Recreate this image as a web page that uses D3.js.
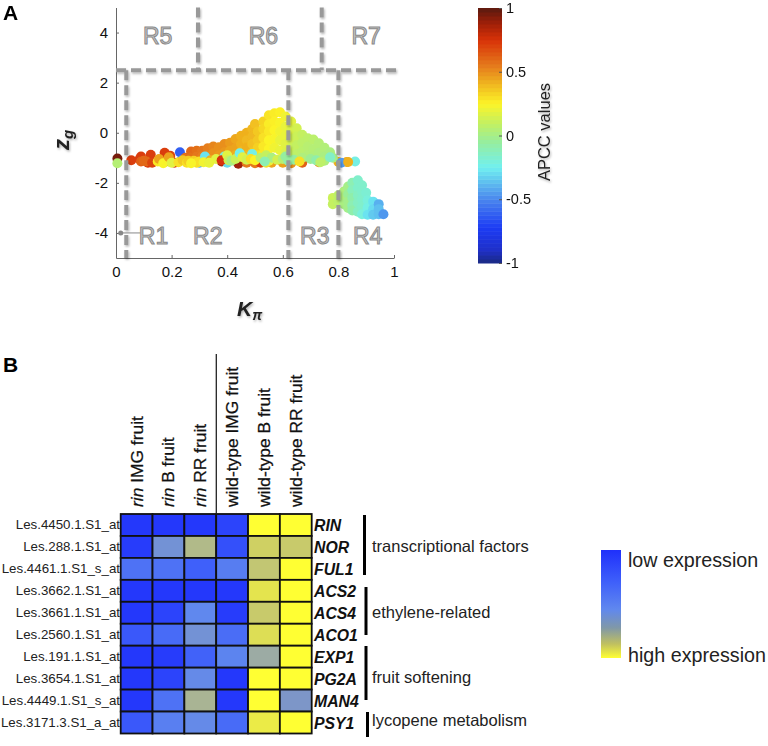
<!DOCTYPE html>
<html><head><meta charset="utf-8">
<script src="https://cdn.jsdelivr.net/npm/d3@7"></script>
<style>
html,body{margin:0;padding:0;background:#fff}
svg{display:block}
text{font-family:"Liberation Sans",Arial,sans-serif}
</style></head><body><svg id="c" width="768" height="746"></svg>
<script>
// ---------- Panel A data: [K, z, APCC] ----------
const bandBack = [
[.005,-1.03,.95],[.055,-1.1,.72],[.085,-1.05,.72],[.09,-.95,.72],[.125,-.88,.72],[.175,-.8,.72],[.195,-.92,.7],
[.09,-1.15,.62],[.115,-1.2,.75],[.1,-1.12,.6],[.21,-1.2,.72],[.18,-1.15,.66],[.23,-.78,-.62],[.235,-1.1,-.5],
[.26,-1.0,.62],[.3,-1.2,-.4],[.38,-1.15,.85],[.44,-1.24,.88],[.47,-1.2,.55],[.5,-1.22,.55],[.52,-1.2,.72],
[.56,-1.2,.45],[.6,-1.2,.45],[.63,-1.22,.5],[.67,-1.2,.62],[.73,-1.18,.5],[.4,-1.2,-.3],[.54,-1.2,.3],
[.8,-1.17,.42],[.83,-1.17,.45],[.81,-1.2,-.45]];
const ridge = [
[.25,-1.0,.58],[.27,-.75,.6],[.27,-.98,.58],[.29,-.72,.58],[.29,-.95,.56],[.31,-.72,.56],[.31,-.95,.54],
[.33,-.62,.54],[.33,-.9,.52],[.35,-.55,.52],[.35,-.82,.5],[.37,-.58,.5],[.37,-.9,.48],[.39,-.45,.5],[.39,-.78,.48],
[.41,-.4,.47],[.41,-.72,.45],[.43,-.25,.44],[.43,-.62,.45],[.43,-.9,.42],[.45,-.12,.42],[.45,-.45,.42],[.45,-.75,.4],
[.47,.0,.42],[.47,-.3,.4],[.47,-.6,.42],[.47,-.9,.4],[.49,.15,.4],[.49,-.15,.4],[.49,-.45,.38],[.49,-.8,.36],[.5,.35,.38],[.51,.05,.36],[.51,-.3,.36],
[.51,-.6,.34],[.51,-.9,.3],[.53,.45,.33],[.53,.15,.32],[.53,-.2,.3],[.53,-.55,.28],[.53,-.85,.28],[.55,.7,.29],[.55,.35,.27],[.55,.05,.28],
[.55,-.3,.25],[.55,-.65,.25],[.57,.78,.27],[.57,.45,.26],[.57,.1,.25],[.57,-.25,.24],[.57,-.6,.22],[.59,.82,.26],
[.59,.4,.24],[.59,.05,.22],[.59,-.3,.2],[.59,-.7,.2],[.61,.65,.22],[.61,.25,.2],[.61,-.1,.2],[.61,-.45,.18],[.61,-.8,.16],
[.63,.45,.18],[.63,.1,.16],[.63,-.25,.14],[.63,-.6,.12],[.63,-.9,.1],[.65,.18,.14],[.65,-.15,.12],[.65,-.5,.1],[.65,-.85,.08],
[.67,-.08,.1],[.67,-.4,.08],[.67,-.75,.07],[.69,-.22,.08],[.69,-.55,.06],[.69,-.9,.05],[.71,-.27,.07],[.71,-.65,.05],
[.71,-.95,.04],[.73,-.42,.05],[.73,-.8,.03],[.75,-.6,.04],[.75,-.95,.02],[.77,-.78,.02],[.78,-1.0,.0]];
const bandFront = [
[.11,-1.15,.6],[.13,-1.2,.7],[.15,-1.15,.28],[.155,-1.05,.45],[.17,-1.22,.24],[.19,-.98,.45],[.2,-1.2,.18],[.225,-1.18,.3],[.24,-1.1,.36],
[.255,-1.2,.3],[.26,-1.12,.35],[.28,-1.12,.34],[.29,-1.2,.3],[.3,-1.15,.3],[.27,-1.22,.24],[.32,-.95,-.28],[.315,-1.18,.22],[.34,-1.1,.42],[.36,-1.05,.18],[.335,-1.2,.2],
[.39,-.95,-.18],[.38,-1.1,.75],[.4,-.9,.18],[.405,-1.1,.12],[.415,-1.12,.02],[.43,-1.05,.12],[.445,-.82,-.24],[.455,-.98,.18],[.47,-1.08,.14],[.49,-.85,-.22],
[.485,-1.05,.3],[.5,-1.1,.25],[.52,-1.0,.08],[.54,-.9,.1],[.55,-1.12,.2],[.56,-1.0,.02],[.58,-1.08,.14],[.535,-1.15,-.1],
[.6,-1.05,.06],[.62,-1.12,-.1],[.61,-.95,-.05],[.64,-1.08,-.05],[.67,-1.0,.03],[.66,-1.15,.3],
[.7,-1.05,-.02],[.72,-1.1,-.08],[.75,-1.12,.03],[.77,-.98,-.15],[.735,-1.18,.08],
[.86,-1.15,-.22],[.835,-1.17,.42],[.005,-1.22,.05]];
const lowCluster = [
[.78,-2.6,.12],[.78,-2.85,.1],[.8,-2.5,.08],[.8,-2.75,.08],[.82,-2.35,.03],[.82,-2.6,.03],[.82,-2.85,.02],
[.835,-2.15,.0],[.835,-2.45,-.03],[.835,-2.75,.0],[.835,-3.0,.0],[.85,-2.0,-.1],[.85,-2.3,-.12],[.85,-2.6,-.08],
[.85,-2.9,-.1],[.85,-3.1,-.08],[.87,-1.9,-.16],[.87,-2.2,-.16],[.87,-2.5,-.14],[.87,-2.8,-.14],[.87,-3.15,-.14],[.885,-2.1,-.16],[.885,-2.35,-.16],[.885,-2.65,-.16],[.885,-2.95,-.16],[.885,-3.25,-.2],
[.9,-2.4,-.18],[.905,-2.7,-.2],[.905,-3.0,-.22],[.905,-3.27,-.28],[.925,-2.75,-.28],[.925,-3.05,-.3],[.925,-3.27,-.34],[.945,-2.85,-.4],[.945,-3.05,-.36],
[.945,-3.25,-.36],[.962,-3.25,-.46]];
const outlierPoint = [.017,-4.0];
// ---------- Panel A guides ----------
const kTicks = [0,.2,.4,.6,.8,1];
const zTicks = [-4,-2,0,2,4];
const apccTicks = [-1,-.5,0,.5,1];
const regionSplitsLow = [.037,.62,.8];
const regionSplitsHigh = [.295,.74];
const regionZ = 2.5;
const regionLabels = [["R1",.135,-4.45],["R2",.33,-4.45],["R3",.715,-4.45],["R4",.905,-4.45],["R5",.15,3.53],["R6",.53,3.53],["R7",.9,3.53]];
// ---------- Panel B data ----------
const conditions = ["rin IMG fruit","rin B fruit","rin RR fruit","wild-type IMG fruit","wild-type B fruit","wild-type RR fruit"];
const probes = ["Les.4450.1.S1_at","Les.288.1.S1_at","Les.4461.1.S1_s_at","Les.3662.1.S1_at","Les.3661.1.S1_at","Les.2560.1.S1_at","Les.191.1.S1_at","Les.3654.1.S1_at","Les.4449.1.S1_s_at","Les.3171.3.S1_a_at"];
const genes = ["RIN","NOR","FUL1","ACS2","ACS4","ACO1","EXP1","PG2A","MAN4","PSY1"];
const expression = [
[.02,.02,.02,.05,1,1],
[.03,.42,.72,.08,.86,.83],
[.2,.2,.12,.25,.8,1],
[.02,.02,.02,.02,.92,1],
[.02,.05,.3,.03,.83,1],
[.1,.17,.42,.18,.9,1],
[.02,.03,.13,.28,.62,1],
[.02,.05,.33,.02,1,1],
[.02,.2,.68,.02,1,.48],
[.1,.26,.33,.17,.94,1]];
const groupNames = ["transcriptional factors","ethylene-related","fruit softening","lycopene metabolism"];

// ---------- Scales ----------
const svg = d3.select("#c");
const defs = svg.append("defs");
const soft = defs.append("filter").attr("id","soft").attr("filterUnits","userSpaceOnUse").attr("x",0).attr("y",0).attr("width",768).attr("height",746);
soft.append("feDropShadow").attr("dx",1).attr("dy",1.5).attr("stdDeviation",1.2).attr("flood-color","#000").attr("flood-opacity",.3);
const blur = defs.append("filter").attr("id","blur");
blur.append("feGaussianBlur").attr("stdDeviation",.35);

const x = d3.scaleLinear().domain([0,1]).range([116,394]);
const y = d3.scaleLinear().domain([-5,5]).range([258,7.5]);
const jet = d3.scaleLinear()
 .domain([-1,-.9,-.72,-.5,-.25,-.05,.1,.25,.4,.55,.75,.88,1])
 .range(["#1a2a80","#1f2fc8","#1c3cf5","#4a86ee","#70f0f0","#96ee9e","#c4f060","#fcf428","#f0b820","#e57a1c","#d83208","#a02008","#5a1a10"])
 .clamp(true);
const hm = d3.scaleLinear().domain([0,.12,.3,.5,.65,.85,1])
 .range(["#1f30fb","#3f60fa","#6088ee","#8098c4","#a3b09c","#cccd66","#ffff33"]);

// ---------- Panel A ----------
const gA = svg.append("g");
const gAxisX = gA.append("g").attr("transform",`translate(0,${y(-5)})`)
 .call(d3.axisBottom(x).tickValues(kTicks).tickFormat(d=>String(d)).tickSizeInner(-3).tickSizeOuter(0).tickPadding(8));
const gAxisY = gA.append("g").attr("transform",`translate(${x(0)},0)`)
 .call(d3.axisLeft(y).tickValues(zTicks).tickFormat(d=>String(d)).tickSizeInner(-3).tickSizeOuter(0).tickPadding(8));
[gAxisX,gAxisY].forEach(g=>{
 g.selectAll("text").attr("font-size",15).attr("fill","#111").style("font-family","Liberation Sans");
 g.selectAll("path,line").attr("stroke","#666");
});
const gPts = gA.append("g").attr("filter","url(#blur)");
gPts.selectAll("circle").data([...bandBack,...ridge,...bandFront,...lowCluster]).join("circle")
 .attr("cx",d=>x(d[0])).attr("cy",d=>y(d[1])).attr("r",5).attr("fill",d=>jet(d[2]));
// outlier and leader
gA.append("line").attr("x1",x(outlierPoint[0])).attr("x2",x(.088)).attr("y1",y(outlierPoint[1])).attr("y2",y(outlierPoint[1])).attr("stroke","#888").attr("stroke-width",1);
gA.append("circle").attr("cx",x(outlierPoint[0])).attr("cy",y(outlierPoint[1])).attr("r",2.5).attr("fill","#888");
// dashed guides
const gDash = gA.append("g").attr("filter","url(#soft)");
function dl(x1,y1,x2,y2){gDash.append("line").attr("x1",x1).attr("y1",y1).attr("x2",x2).attr("y2",y2)
 .attr("stroke","#999").attr("stroke-width",4).attr("stroke-dasharray","10 5");}
dl(x(0),y(regionZ),x(1.015),y(regionZ));
regionSplitsLow.forEach(k=>dl(x(k),y(regionZ),x(k),y(-5)));
regionSplitsHigh.forEach(k=>dl(x(k),y(5),x(k),y(regionZ)));
gA.selectAll("text.r").data(regionLabels).join("text").attr("class","r")
 .attr("x",d=>x(d[1])).attr("y",d=>y(d[2])).attr("text-anchor","middle").attr("font-size",23)
 .attr("fill","#c8c8c8").attr("stroke","#8a8a8a").attr("stroke-width",1).text(d=>d[0]);
// axis titles (shadow filter sits on an untransformed wrapper)
const gTitles = gA.append("g").attr("filter","url(#soft)");
const kT = gTitles.append("text").attr("x",237).attr("y",316).attr("font-size",21).attr("font-weight","bold").attr("font-style","italic").attr("fill","#222");
kT.append("tspan").text("K");
kT.append("tspan").attr("dy",4).attr("font-size",14).text("π");
const zT = gTitles.append("text").attr("transform","translate(69,150) rotate(-90)").attr("font-size",22).attr("font-weight","bold").attr("font-style","italic").attr("fill","#222");
zT.append("tspan").text("z");
zT.append("tspan").attr("dy",4).attr("font-size",15).text("g");
gTitles.append("text").attr("transform","translate(550,132) rotate(-90)").attr("text-anchor","middle").attr("font-size",16.5).attr("fill","#222").text("APCC values");
gA.append("text").attr("x",3).attr("y",20).attr("font-size",21).attr("font-weight","bold").text("A");

// colour bar
const cbY = d3.scaleLinear().domain([-1,1]).range([263,8]);
const cbBands = d3.range(-1,1,2/64);
gA.append("g").selectAll("rect").data(cbBands).join("rect")
 .attr("x",478).attr("width",24).attr("y",d=>cbY(d+2/64)).attr("height",d=>cbY(d)-cbY(d+2/64)+.5).attr("fill",d=>jet(d+1/64));
const gCb = gA.append("g").attr("transform","translate(502,0)")
 .call(d3.axisRight(cbY).tickValues(apccTicks).tickFormat(d=>String(d)).tickSizeInner(-3).tickSizeOuter(0).tickPadding(4));
gCb.select("path").remove();
gCb.selectAll("line").attr("stroke","#555");
gCb.selectAll("text").attr("font-size",14.5).attr("fill","#111").style("font-family","Liberation Sans");

// ---------- Panel B ----------
const gB = svg.append("g");
gB.append("text").attr("x",3).attr("y",372).attr("font-size",21).attr("font-weight","bold").text("B");
const cx = d3.scaleBand().domain(conditions).range([120.7,311.7]);
const ry = d3.scaleBand().domain(probes).range([514,733.5]);
gB.append("g").selectAll("g").data(expression).join("g").each(function(row,i){
 d3.select(this).selectAll("rect").data(row).join("rect")
  .attr("x",(d,j)=>cx(conditions[j])).attr("y",ry(probes[i])).attr("width",cx.bandwidth()).attr("height",ry.bandwidth())
  .attr("fill",d=>hm(d)).attr("stroke","#111").attr("stroke-width",1.8);
});
gB.selectAll("text.cl").data(conditions).join("text").attr("class","cl")
 .attr("transform",d=>`translate(${cx(d)+cx.bandwidth()/2+6},507) rotate(-90)`)
 .attr("font-size",17.4).attr("fill","#111").attr("stroke","#111").attr("stroke-width",.25)
 .each(function(d){
  const t=d3.select(this);
  if(d.startsWith("rin ")){t.append("tspan").attr("font-style","italic").text("rin");t.append("tspan").text(d.slice(3));}
  else t.text(d);
 });
gB.append("line").attr("x1",216.3).attr("x2",216.3).attr("y1",354).attr("y2",514).attr("stroke","#222").attr("stroke-width",1.3);
gB.selectAll("text.pl").data(probes).join("text").attr("class","pl")
 .attr("x",120).attr("y",d=>ry(d)+ry.bandwidth()/2+4.5).attr("text-anchor","end").attr("font-size",13.3).attr("fill","#222").text(d=>d);
gB.selectAll("text.gl").data(genes).join("text").attr("class","gl")
 .attr("x",314).attr("y",(d,i)=>ry(probes[i])+ry.bandwidth()/2+6).attr("font-size",15.8).attr("font-weight","bold").attr("font-style","italic").attr("fill","#111").text(d=>d);
// group brackets
const brackets = [[364.5,515,575],[366,587,635],[366,646,700],[367.5,712,737]];
const groupBase = [552,618,683,726];
gB.selectAll("line.b").data(brackets).join("line").attr("class","b").attr("x1",d=>d[0]).attr("x2",d=>d[0]).attr("y1",d=>d[1]).attr("y2",d=>d[2])
 .attr("stroke","#000").attr("stroke-width",3);
gB.selectAll("text.gn").data(groupNames).join("text").attr("class","gn").attr("x",372).attr("y",(d,i)=>groupBase[i]).attr("font-size",16.5).attr("fill","#222").text(d=>d);
// expression legend
const lg = defs.append("linearGradient").attr("id","lg").attr("x1",0).attr("x2",0).attr("y1",0).attr("y2",1);
[[0,"#1f30fb"],[.3,"#3f60fa"],[.55,"#6088ee"],[.72,"#8098a8"],[.87,"#c0c060"],[1,"#ffff33"]].forEach(s=>lg.append("stop").attr("offset",s[0]).attr("stop-color",s[1]));
gB.append("rect").attr("x",601).attr("y",550).attr("width",20).attr("height",108).attr("fill","url(#lg)");
gB.append("text").attr("x",628).attr("y",567).attr("font-size",19.7).attr("fill","#222").text("low expression");
gB.append("text").attr("x",628).attr("y",662).attr("font-size",19.7).attr("fill","#222").text("high expression");
</script></body></html>
